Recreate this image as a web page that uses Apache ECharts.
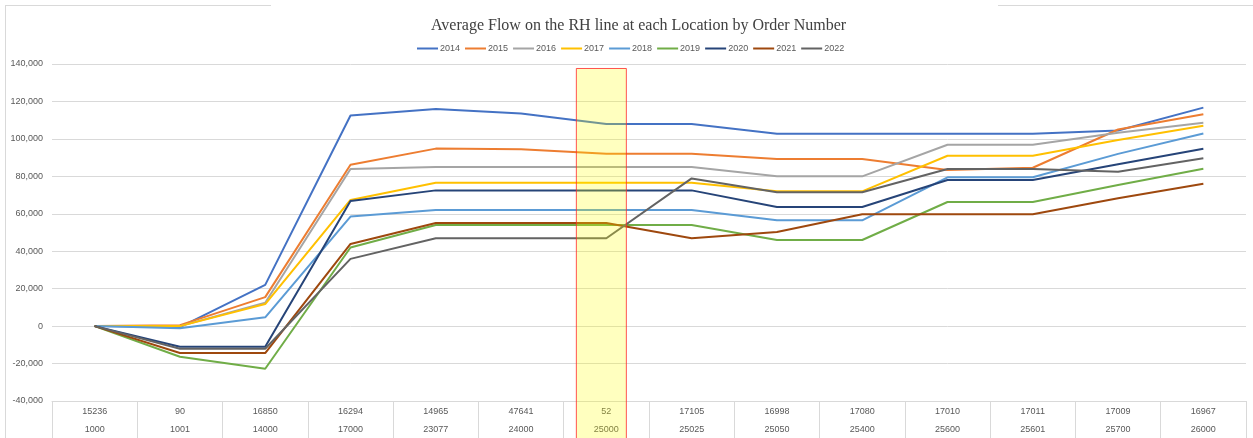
<!DOCTYPE html>
<html>
<head>
<meta charset="utf-8">
<script src="https://cdn.jsdelivr.net/npm/echarts@6/dist/echarts.min.js"></script>
<style>
html,body{margin:0;padding:0;background:#fff;}
#chart{width:1253px;height:438px;}
</style>
</head>
<body>
<div id="chart"></div>
<script>
const locations = ['15236','90','16850','16294','14965','47641','52','17105','16998','17080','17010','17011','17009','16967'];
const orderNumbers = ['1000','1001','14000','17000','23077','24000','25000','25025','25050','25400','25600','25601','25700','26000'];
const years = ['2014','2015','2016','2017','2018','2019','2020','2021','2022'];
const v2014 = [0, -500, 22000, 112500, 116000, 113500, 108000, 108000, 102800, 102800, 102800, 102800, 104500, 116700];
const v2015 = [0, 500, 15500, 86200, 94800, 94400, 92100, 92100, 89200, 89200, 83400, 84600, 105000, 113200];
const v2016 = [0, 0, 12500, 83900, 85000, 85000, 85000, 85000, 80000, 80000, 96900, 96900, 103300, 108600];
const v2017 = [0, 0, 11800, 67400, 76600, 76600, 76600, 76600, 72000, 72000, 91000, 91000, 99400, 107000];
const v2018 = [0, -1100, 4700, 58500, 62000, 62000, 62000, 62000, 56500, 56500, 79500, 79500, 92000, 102900];
const v2019 = [0, -16400, -22800, 42000, 54000, 54000, 54000, 54000, 46000, 46000, 66300, 66300, 75400, 84000];
const v2020 = [0, -11000, -11000, 66800, 72500, 72500, 72500, 72500, 63600, 63600, 78000, 78000, 86400, 94700];
const v2021 = [0, -14400, -14400, 43900, 55100, 55100, 55100, 46900, 50300, 59700, 59700, 59700, 68300, 76000];
const v2022 = [0, -12100, -12100, 35900, 46900, 46900, 46900, 78900, 71500, 71500, 83900, 83900, 82500, 89600];
const highlightOrder = '25000';

const values = [v2014, v2015, v2016, v2017, v2018, v2019, v2020, v2021, v2022];
const colors = ['#4472C4','#ED7D31','#A5A5A5','#FFC000','#5B9BD5','#70AD47','#264478','#9E480E','#636363'];
const labelFont = "'Liberation Sans Narrow', 'Liberation Sans', sans-serif";

const chart = echarts.init(document.getElementById('chart'), null, {renderer: 'canvas'});
const option = {
  animation: false,
  backgroundColor: '#fff',
  title: {
    text: 'Average Flow on the RH line at each Location by Order Number',
    left: 426, top: 13,
    textStyle: {fontFamily: "'Liberation Serif', serif", fontWeight: 'normal', fontSize: 16, color: '#404040'}
  },
  legend: {
    top: 39, left: 412,
    itemWidth: 21, itemHeight: 2, itemGap: 5, icon: 'rect',
    textStyle: {fontFamily: labelFont, fontSize: 9, color: '#595959', padding: [0,0,0,-3]},
    data: years
  },
  grid: {left: 52, right: 7, top: 64, bottom: 37},
  xAxis: {
    type: 'category',
    data: orderNumbers,
    boundaryGap: true,
    axisLine: {onZero: false, lineStyle: {color: '#d9d9d9'}},
    axisTick: {show: true, length: 40, lineStyle: {color: '#d9d9d9'}},
    axisLabel: {
      interval: 0, margin: 2,
      formatter: function (val, idx) { return '{a|' + locations[idx] + '}\n{a|' + val + '}'; },
      rich: {a: {fontFamily: labelFont, fontSize: 9, color: '#595959', lineHeight: 18}}
    }
  },
  yAxis: {
    type: 'value', min: -40000, max: 140000, interval: 20000,
    axisLine: {show: false}, axisTick: {show: false},
    splitLine: {lineStyle: {color: '#d9d9d9'}},
    axisLabel: {
      margin: 9, fontFamily: labelFont, fontSize: 9, color: '#595959',
      formatter: function (v) { return v.toLocaleString('en-US'); }
    }
  },
  series: years.map(function (y, i) {
    return {
      name: y, type: 'line', data: values[i], symbol: 'none',
      lineStyle: {width: 2, color: colors[i]}, itemStyle: {color: colors[i]}
    };
  })
};
chart.setOption(option);

const cx = chart.convertToPixel({xAxisIndex: 0}, highlightOrder);
const topY = chart.convertToPixel({yAxisIndex: 0}, 137600);
chart.setOption({
  graphic: [
    {type: 'rect', z: 100, shape: {x: cx - 30, y: topY, width: 50, height: 438 - topY + 2},
     style: {fill: 'rgba(255,255,0,0.25)', stroke: 'rgba(255,40,40,0.8)', lineWidth: 1}},
    {type: 'line', z: 100, shape: {x1: 5.5, y1: 5, x2: 5.5, y2: 440}, style: {stroke: '#d9d9d9', lineWidth: 1}},
    {type: 'line', z: 100, shape: {x1: 5, y1: 5.5, x2: 271, y2: 5.5}, style: {stroke: '#d9d9d9', lineWidth: 1}},
    {type: 'line', z: 100, shape: {x1: 998, y1: 5.5, x2: 1253, y2: 5.5}, style: {stroke: '#d9d9d9', lineWidth: 1}}
  ]
});
</script>
</body>
</html>
